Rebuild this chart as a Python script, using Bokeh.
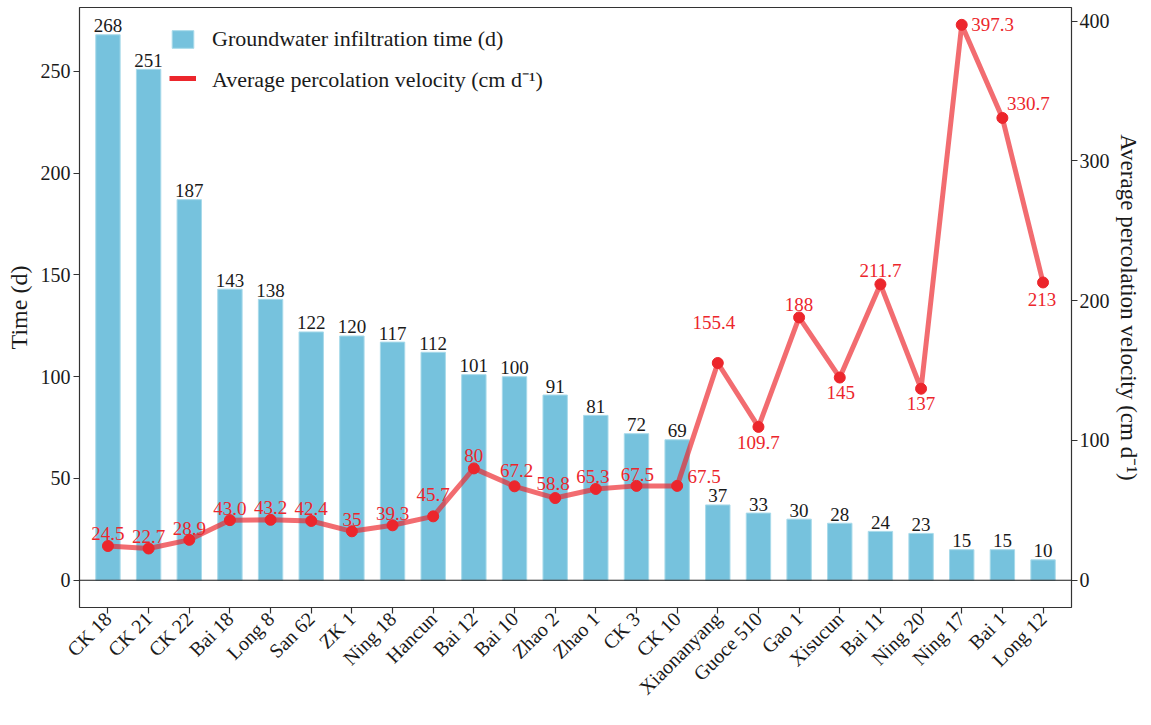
import math
from bokeh.plotting import figure
from bokeh.models import (ColumnDataSource, FactorRange, Range1d, LinearAxis,
                          FixedTicker, Span, Legend, LegendItem)
from bokeh.embed import file_html
from bokeh.resources import INLINE
from bokeh.core.properties import value

# ---------------- data ----------------
sites = ["CK 18", "CK 21", "CK 22", "Bai 18", "Long 8", "San 62", "ZK 1", "Ning 18",
         "Hancun", "Bai 12", "Bai 10", "Zhao 2", "Zhao 1", "CK 3", "CK 10",
         "Xiaonanyang", "Guoce 510", "Gao 1", "Xisucun", "Bai 11", "Ning 20",
         "Ning 17", "Bai 1", "Long 12"]
time_d = [268, 251, 187, 143, 138, 122, 120, 117, 112, 101, 100, 91, 81, 72, 69,
          37, 33, 30, 28, 24, 23, 15, 15, 10]
velocity = [24.5, 22.7, 28.9, 43.0, 43.2, 42.4, 35, 39.3, 45.7, 80, 67.2, 58.8,
            65.3, 67.5, 67.5, 155.4, 109.7, 188, 145, 211.7, 137, 397.3, 330.7, 213]
velocity_text = ["24.5", "22.7", "28.9", "43.0", "43.2", "42.4", "35", "39.3",
                 "45.7", "80", "67.2", "58.8", "65.3", "67.5", "67.5", "155.4",
                 "109.7", "188", "145", "211.7", "137", "397.3", "330.7", "213"]
time_ticks = [0, 50, 100, 150, 200, 250]
velocity_ticks = [0, 100, 200, 300, 400]

# ---------------- label placement (style) ----------------
# (dx, dy) screen offsets of each red label centre from its point
label_dx = [0, 0, 0, 0, 0, 0, 0, 0, 0, 0, 2, -2, -3, 1, 27,
            -4, 0, 0, 1, 0, 0, 31, 26, -1]
label_dy = [-12, -12, -11, -12, -12, -12, -12, -12, -22, -13, -16, -15, -12, -11, -9,
            -40, 16, -13, 15, -14, 15, 0, -14, 17]

FONT = "Liberation Serif"
TXT = "#1a1a1a"
BAR = "#76C2DD"
RED = "#EC262C"

src = ColumnDataSource(dict(
    site=sites, time=time_d, time_lbl=[str(t) for t in time_d],
    vel=velocity, vel_lbl=velocity_text, dx=label_dx, dy=label_dy,
))

p = figure(width=1143, height=709,
           x_range=FactorRange(factors=sites, range_padding=0.2,
                               range_padding_units="absolute"),
           y_range=Range1d(-13.4, 281.4),
           output_backend="svg", toolbar_location=None,
           min_border_left=79, min_border_right=62,
           min_border_top=7, min_border_bottom=80)
p.extra_y_ranges = {"right": Range1d(-19.5, 409.7)}

p.xgrid.grid_line_color = None
p.ygrid.grid_line_color = None
p.outline_line_color = "#333333"
p.outline_line_width = 1.2
p.background_fill_color = "white"
p.border_fill_color = "white"

bars = p.vbar(x="site", top="time", bottom=0, width=0.6, source=src,
              fill_color=BAR, line_color="#A8DAEA", line_width=1)

p.add_layout(Span(location=0, dimension="width", line_color="#1a1a1a", line_width=1.2))

p.text(x="site", y="time", text="time_lbl", source=src,
       text_font=value(FONT), text_font_size="19px", text_color=TXT,
       text_align="center", text_baseline="middle", y_offset=-9)

p.line(x="site", y="vel", source=src, y_range_name="right",
       line_color=RED, line_alpha=0.68, line_width=5, line_join="round")
p.scatter(x="site", y="vel", source=src, y_range_name="right",
          size=11, fill_color=RED, line_color=RED)

p.text(x="site", y="vel", text="vel_lbl", source=src, y_range_name="right",
       x_offset="dx", y_offset="dy",
       text_font=value(FONT), text_font_size="19px", text_color=RED,
       text_align="center", text_baseline="middle")

# legend-only line (full red), a single undrawn point
leg_line = p.line(x=[sites[0]], y=[float("nan")], line_color=RED, line_width=5)

legend = Legend(items=[
    LegendItem(label="Groundwater infiltration time (d)", renderers=[bars]),
    LegendItem(label="Average percolation velocity (cm d\u207b\u00b9)", renderers=[leg_line]),
], location=(90, 514))
legend.border_line_color = None
legend.background_fill_alpha = 0
legend.padding = 0
legend.margin = 0
legend.spacing = 11
legend.glyph_width = 27
legend.glyph_height = 22
legend.label_standoff = 16
legend.label_text_font = FONT
legend.label_text_font_size = "22px"
legend.label_text_color = TXT
legend.label_text_baseline = "middle"
p.add_layout(legend)

# axes
def style_axis(ax):
    ax.major_label_text_font = FONT
    ax.major_label_text_font_size = "20px"
    ax.major_label_text_color = TXT
    ax.axis_label_text_font = FONT
    ax.axis_label_text_font_size = "24px"
    ax.axis_label_text_font_style = "normal"
    ax.axis_label_text_color = TXT
    ax.axis_line_color = None
    ax.major_tick_line_color = "#333333"
    ax.major_tick_line_width = 1.2
    ax.major_tick_out = 6
    ax.major_tick_in = 0
    ax.minor_tick_line_color = None
    ax.major_label_standoff = 3

yl = p.yaxis[0]
yl.ticker = FixedTicker(ticks=time_ticks)
yl.axis_label = "Time (d)"
style_axis(yl)
yl.axis_label_standoff = 6

yr = LinearAxis(y_range_name="right", ticker=FixedTicker(ticks=velocity_ticks),
                axis_label="Average percolation velocity (cm d\u207b\u00b9)")
style_axis(yr)
yr.major_label_standoff = 2
yr.axis_label_standoff = 3
yr.axis_label_text_font_size = "23px"
p.add_layout(yr, "right")

xa = p.xaxis[0]
style_axis(xa)
xa.major_label_orientation = math.pi / 4
xa.major_label_standoff = 2

open("out.html", "w").write(file_html(p, INLINE))
